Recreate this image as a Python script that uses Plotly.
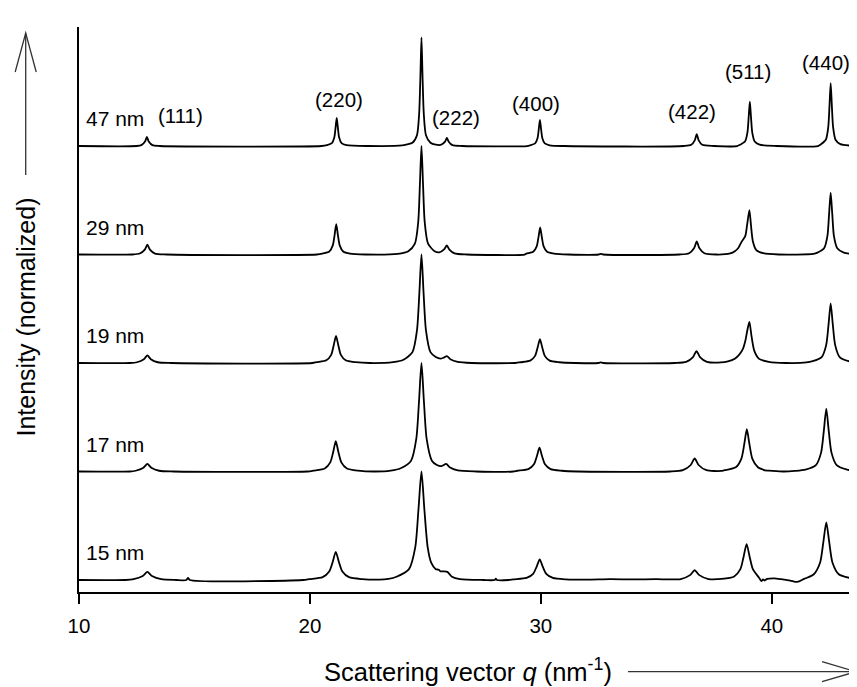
import plotly.graph_objects as go

# ---- data (q in nm^-1, normalized intensity; (311) peak = 1) ----
sizes = ["47 nm", "29 nm", "19 nm", "17 nm", "15 nm"]
offsets = [4, 3, 2, 1, 0]

pts_47 = [(10.0, 0), (12.5, 0), (12.70, 0.008), (12.86, 0.042), (12.94, 0.083), (13.02, 0.042), (13.18, 0.008),
          (13.5, 0), (20.5, 0), (20.74, 0.008), (20.95, 0.026), (21.055, 0.078), (21.11, 0.169), (21.16, 0.26),
          (21.21, 0.169), (21.265, 0.078), (21.37, 0.026), (21.58, 0.008), (22.5, 0), (24.0, 0.005), (24.2, 0.015),
          (24.44, 0.03), (24.635, 0.10), (24.73, 0.30), (24.785, 0.65), (24.83, 1.0), (24.875, 0.65), (24.93, 0.30),
          (25.025, 0.10), (25.22, 0.03), (25.45, 0.012), (25.69, 0.012), (25.85, 0.04), (25.93, 0.074), (26.01, 0.04),
          (26.17, 0.008), (26.6, 0), (29.4, 0), (29.54, 0.007), (29.75, 0.024), (29.855, 0.072), (29.91, 0.156),
          (29.96, 0.24), (30.01, 0.156), (30.065, 0.072), (30.17, 0.024), (30.38, 0.007), (31.0, 0), (36.2, 0),
          (36.51, 0.011), (36.67, 0.055), (36.75, 0.11), (36.83, 0.055), (36.99, 0.011), (37.5, 0), (38.5, 0),
          (38.63, 0.012), (38.84, 0.041), (38.945, 0.123), (39.0, 0.267), (39.05, 0.41), (39.10, 0.267),
          (39.155, 0.123), (39.26, 0.041), (39.47, 0.012), (40.2, 0), (42.0, 0), (42.13, 0.017), (42.34, 0.058),
          (42.445, 0.174), (42.5, 0.377), (42.55, 0.58), (42.60, 0.377), (42.655, 0.174), (42.76, 0.058),
          (42.97, 0.017), (43.7, 0)]

pts_29 = [(10, 0), (12.3, 0), (12.63, 0.009), (12.85, 0.045), (12.96, 0.09), (13.07, 0.045), (13.29, 0.009),
          (13.8, 0), (20.3, 0), (20.54, 0.008), (20.84, 0.028), (20.99, 0.084), (21.07, 0.182), (21.14, 0.28),
          (21.21, 0.182), (21.29, 0.084), (21.44, 0.028), (21.74, 0.008), (22.4, 0), (23.8, 0.006), (24.26, 0.03),
          (24.545, 0.10), (24.69, 0.30), (24.763, 0.65), (24.83, 1.0), (24.897, 0.65), (24.97, 0.30), (25.115, 0.10),
          (25.40, 0.03), (25.60, 0.02), (25.82, 0.05), (25.93, 0.083), (26.04, 0.045), (26.26, 0.01), (26.8, 0),
          (29.3, 0), (29.37, 0.008), (29.67, 0.025), (29.82, 0.075), (29.90, 0.163), (29.97, 0.25), (30.04, 0.163),
          (30.12, 0.075), (30.27, 0.025), (30.57, 0.008), (31.2, 0), (32.5, 0), (32.6, 0.006), (32.7, 0), (36.0, 0),
          (36.42, 0.012), (36.64, 0.06), (36.75, 0.12), (36.86, 0.06), (37.08, 0.012), (37.6, 0), (38.2, 0.01),
          (38.40, 0.03), (38.55, 0.06), (38.70, 0.12), (38.85, 0.17), (38.93, 0.27), (39.03, 0.41), (39.10, 0.267),
          (39.18, 0.123), (39.33, 0.041), (39.63, 0.012), (40.3, 0), (41.8, 0.005), (41.98, 0.017), (42.265, 0.057),
          (42.41, 0.171), (42.48, 0.37), (42.55, 0.57), (42.62, 0.37), (42.69, 0.171), (42.835, 0.057),
          (43.12, 0.017), (43.7, 0.003)]

pts_19 = [(10, 0), (12.2, 0), (12.51, 0.007), (12.81, 0.035), (12.96, 0.07), (13.11, 0.035), (13.41, 0.007),
          (14, 0), (20.1, 0), (20.29, 0.008), (20.71, 0.025), (20.92, 0.075), (21.03, 0.163), (21.13, 0.25),
          (21.23, 0.163), (21.34, 0.075), (21.55, 0.025), (21.97, 0.008), (22.6, 0), (23.6, 0.008), (24.05, 0.03),
          (24.44, 0.10), (24.635, 0.30), (24.74, 0.65), (24.83, 1.0), (24.92, 0.65), (25.025, 0.30), (25.22, 0.10),
          (25.45, 0.055), (25.65, 0.04), (25.8, 0.05), (25.93, 0.063), (26.08, 0.035), (26.4, 0.01), (27, 0),
          (28.9, 0), (29.12, 0.007), (29.54, 0.022), (29.75, 0.066), (29.86, 0.143), (29.96, 0.22), (30.06, 0.143),
          (30.17, 0.066), (30.38, 0.022), (30.80, 0.007), (31.5, 0), (32.5, 0), (32.6, 0.005), (32.7, 0), (35.8, 0),
          (36.29, 0.011), (36.59, 0.055), (36.74, 0.11), (36.89, 0.055), (37.19, 0.011), (37.8, 0.005),
          (38.1, 0.015), (38.4, 0.04), (38.6, 0.08), (38.75, 0.13), (38.85, 0.2), (38.94, 0.3), (39.03, 0.38),
          (39.12, 0.25), (39.24, 0.114), (39.45, 0.038), (39.87, 0.011), (40.6, 0), (41.5, 0.005), (41.77, 0.017),
          (42.16, 0.055), (42.355, 0.165), (42.46, 0.36), (42.55, 0.55), (42.64, 0.36), (42.745, 0.165),
          (42.94, 0.055), (43.33, 0.017), (43.7, 0.008)]

pts_17 = [(10, 0), (12.2, 0), (12.45, 0.007), (12.79, 0.035), (12.96, 0.07), (13.13, 0.035), (13.47, 0.007),
          (14.1, 0), (19.9, 0), (20.16, 0.008), (20.64, 0.028), (20.88, 0.084), (21.01, 0.182), (21.12, 0.28),
          (21.23, 0.182), (21.36, 0.084), (21.60, 0.028), (22.08, 0.008), (22.8, 0), (23.5, 0.008), (23.93, 0.03),
          (24.38, 0.10), (24.605, 0.30), (24.725, 0.65), (24.83, 1.0), (24.935, 0.65), (25.055, 0.30), (25.28, 0.10),
          (25.5, 0.06), (25.7, 0.05), (25.9, 0.07), (26.05, 0.04), (26.4, 0.01), (27.2, 0), (28.8, 0),
          (28.98, 0.007), (29.46, 0.022), (29.70, 0.066), (29.83, 0.143), (29.94, 0.22), (30.05, 0.143),
          (30.18, 0.066), (30.42, 0.022), (30.90, 0.007), (31.6, 0), (35.6, 0), (36.15, 0.012), (36.49, 0.06),
          (36.66, 0.12), (36.83, 0.06), (37.17, 0.012), (37.8, 0.005), (37.96, 0.012), (38.44, 0.039),
          (38.68, 0.117), (38.81, 0.254), (38.92, 0.39), (39.03, 0.254), (39.16, 0.117), (39.40, 0.039),
          (39.62, 0.018), (39.7, 0.01), (39.88, 0.008), (40.5, 0), (41.0, 0.005), (41.46, 0.017), (41.91, 0.058),
          (42.135, 0.174), (42.255, 0.377), (42.36, 0.58), (42.465, 0.377), (42.585, 0.174), (42.81, 0.058),
          (43.26, 0.017), (43.7, 0.008)]

pts_15 = [(10, 0), (12.0, 0), (12.36, 0.007), (12.76, 0.037), (12.96, 0.074), (13.16, 0.037), (13.56, 0.007),
          (14.2, 0), (14.65, 0), (14.72, 0.02), (14.8, 0), (19.7, 0), (19.98, 0.008), (20.55, 0.026),
          (20.835, 0.078), (20.99, 0.169), (21.12, 0.26), (21.25, 0.169), (21.405, 0.078), (21.69, 0.026),
          (22.26, 0.008), (23.0, 0.003), (23.4, 0.01), (23.75, 0.03), (24.29, 0.10), (24.56, 0.30), (24.70, 0.65),
          (24.83, 1.0), (24.956, 0.65), (25.10, 0.30), (25.25, 0.16), (25.45, 0.10), (25.58, 0.095), (25.65, 0.08),
          (25.8, 0.08), (25.95, 0.075), (26.15, 0.03), (26.5, 0.008), (27.5, 0), (28.0, 0), (28.05, 0.012),
          (28.1, 0), (28.6, 0), (28.81, 0.006), (29.38, 0.019), (29.665, 0.057), (29.82, 0.124), (29.95, 0.19),
          (30.08, 0.124), (30.235, 0.057), (30.52, 0.019), (31.09, 0.006), (32, 0.003), (33, 0.008), (34, 0.005),
          (35.0, 0.008), (35.6, 0.005), (36.06, 0.009), (36.46, 0.045), (36.66, 0.09), (36.86, 0.045),
          (37.26, 0.009), (37.83, 0.01), (38.37, 0.033), (38.64, 0.1), (38.78, 0.215), (38.91, 0.33), (39.04, 0.215),
          (39.18, 0.1), (39.45, 0.02), (39.55, -0.01), (39.62, 0.005), (39.68, -0.005), (39.8, 0.01), (40.1, 0.015),
          (40.4, 0.008), (40.8, -0.005), (41.1, -0.018), (41.4, 0.01), (41.82, 0.053), (42.09, 0.159),
          (42.23, 0.345), (42.36, 0.53), (42.49, 0.345), (42.63, 0.159), (42.9, 0.053), (43.44, 0.016),
          (43.7, 0.01)]

patterns = [pts_47, pts_29, pts_19, pts_17, pts_15]

reflections = ["(111)", "(220)", "(311)", "(222)", "(400)", "(422)", "(511)", "(440)"]
reflection_q = [14.39, 21.27, 24.80, 26.33, 29.80, 36.53, 38.99, 42.35]
reflection_y = [4.28, 4.43, 5.13, 4.26, 4.39, 4.32, 4.69, 4.77]

x_ticks = [10, 20, 30, 40]

FONT = "Liberation Sans, Arial, Helvetica, sans-serif"

fig = go.Figure()
for name, pts, off in zip(sizes, patterns, offsets):
    fig.add_trace(go.Scatter(
        x=[p[0] for p in pts], y=[p[1] + off for p in pts],
        mode="lines", name=name, showlegend=False,
        line=dict(color="#000000", width=1.8, shape="spline", smoothing=0.7),
        hoverinfo="skip"))

annotations = []
for name, off in zip(sizes, offsets):
    annotations.append(dict(x=0, xref="paper", y=off + 0.25, yref="y", text=name,
                            xanchor="left", yanchor="middle", xshift=5, showarrow=False,
                            font=dict(size=21, color="#000", family=FONT)))
for t, q, y in zip(reflections, reflection_q, reflection_y):
    annotations.append(dict(x=q, xref="x", y=y, yref="y", text=t, xanchor="center",
                            yanchor="middle", showarrow=False,
                            font=dict(size=20.5, color="#000", family=FONT)))
# axis titles
annotations.append(dict(x=0.5, xref="paper", y=-0.138, yref="paper",
                        text="Scattering vector <i>q</i> (nm<sup>-1</sup>)",
                        xanchor="center", yanchor="middle", showarrow=False,
                        font=dict(size=25.5, color="#000", family=FONT)))
annotations.append(dict(x=-0.068, xref="paper", y=0.486, yref="paper",
                        text="Intensity (normalized)", textangle=-90,
                        xanchor="center", yanchor="middle", showarrow=False,
                        font=dict(size=25, color="#000", family=FONT)))

arrow_style = dict(color="#333333", width=1.3)
shapes = [
    # y arrow
    dict(type="line", xref="paper", yref="paper", x0=-0.0685, x1=-0.0685, y0=0.738, y1=0.989, line=arrow_style),
    dict(type="path", xref="paper", yref="paper",
         path="M -0.0820 0.9204 L -0.0685 0.9894 L -0.0550 0.9204", line=arrow_style),
    # x arrow
    dict(type="line", xref="paper", yref="paper", x0=0.7057, x1=0.999, y0=-0.1410, y1=-0.1410, line=arrow_style),
    dict(type="path", xref="paper", yref="paper",
         path="M 0.955 -0.1233 L 0.999 -0.1410 L 0.955 -0.1587", line=arrow_style),
]

# the page body adds an 8 px margin, so the figure is sized/placed to compensate
fig.update_layout(
    width=849, height=679,
    margin=dict(l=71, r=0, t=19, b=95, pad=0),
    paper_bgcolor="white", plot_bgcolor="white",
    font=dict(family=FONT, size=20, color="#000"),
    annotations=annotations, shapes=shapes,
    xaxis=dict(range=[10, 43.69], tickvals=x_ticks, ticks="outside", ticklen=10, tickwidth=1.5,
               tickcolor="#000", showline=True, linecolor="#000", linewidth=1.5, showgrid=False,
               zeroline=False, ticklabelstandoff=5,
               tickfont=dict(size=20.5, family=FONT, color="#000")),
    yaxis=dict(range=[-0.1106, 5.097], showticklabels=False, ticks="", showline=True,
               linecolor="#000", linewidth=1.5, showgrid=False, zeroline=False),
)

fig.write_html("out.html")
